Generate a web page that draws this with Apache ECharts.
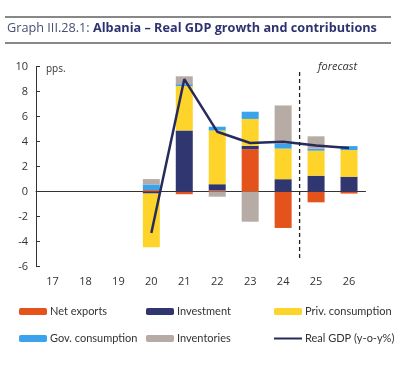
<!DOCTYPE html>
<html><head><meta charset="utf-8">
<script src="https://cdn.jsdelivr.net/npm/echarts@6/dist/echarts.min.js"></script>
<style>html,body{margin:0;padding:0;background:#fff}#c{width:416px;height:372px}</style>
</head><body><div id="c"></div>
<script>
const categories = ['17','18','19','20','21','22','23','24','25','26'];
const netExports = [null,null,null,0.13,-0.2,0.1,3.4,-2.9,-0.85,-0.15];
const investment = [null,null,null,-0.15,4.9,0.5,0.27,1.0,1.28,1.2];
const privCons   = [null,null,null,-4.3,3.55,4.3,2.15,2.45,2.0,2.13];
const govCons    = [null,null,null,0.45,0.15,0.3,0.58,0.4,0.15,0.32];
const inventories= [null,null,null,0.43,0.63,-0.4,-2.4,3.05,1.0,null];
const realGDP    = [null,null,null,-3.3,9.0,4.8,3.9,4.0,3.7,3.5];
const yTicks = {min:-6, max:10, interval:2};

const font = 'Open Sans';
const lfont = 'Lato';
const chart = echarts.init(document.getElementById('c'));
const barBase = {type:'bar', stack:'s', barWidth:17, xAxisIndex:0, yAxisIndex:0};
const legBase = {top:301, orient:'vertical', itemWidth:28, itemHeight:7, itemGap:16,
  textStyle:{color:'#333', fontSize:11, fontFamily:lfont, padding:[0,0,0,-2]}};
chart.setOption({
  animation:false,
  textStyle:{fontFamily:font},
  grid:{left:36, right:50.5, top:66.7, bottom:105.3},
  xAxis:[
    {type:'category', data:categories, position:'bottom',
     axisLine:{onZero:true, lineStyle:{color:'#333', width:1}},
     axisTick:{inside:true, length:4, lineStyle:{color:'#333'}},
     axisLabel:{show:false}},
    {type:'category', data:categories, position:'bottom',
     axisLine:{show:false}, axisTick:{show:false},
     axisLabel:{color:'#333', fontSize:11, margin:10, fontFamily:font}}
  ],
  yAxis:{type:'value', min:yTicks.min, max:yTicks.max, interval:yTicks.interval,
    axisLine:{show:true, onZero:false, lineStyle:{color:'#333'}},
    axisTick:{show:true, inside:true, length:4, lineStyle:{color:'#333'}},
    splitLine:{show:false},
    axisLabel:{color:'#333', fontSize:11, margin:8, fontFamily:font}},
  legend:[
    Object.assign({left:14, data:['Net exports','Gov. consumption']}, legBase),
    Object.assign({left:141, data:['Investment','Inventories']}, legBase),
    Object.assign({left:268, data:['Priv. consumption',
      {name:'Real GDP (y-o-y%)', itemStyle:{opacity:0}}]}, legBase)
  ],
  series:[
    Object.assign({name:'Net exports', data:netExports, itemStyle:{color:'#E4531C'}}, barBase),
    Object.assign({name:'Investment', data:investment, itemStyle:{color:'#2F3670'}}, barBase),
    Object.assign({name:'Priv. consumption', data:privCons, itemStyle:{color:'#FFD42A'}}, barBase),
    Object.assign({name:'Gov. consumption', data:govCons, itemStyle:{color:'#3BA3EC'}}, barBase),
    Object.assign({name:'Inventories', data:inventories, itemStyle:{color:'#B7ABA6'}}, barBase),
    {name:'Real GDP (y-o-y%)', type:'line', data:realGDP, symbol:'none', xAxisIndex:0,
     lineStyle:{color:'#262B5E', width:2.5}, itemStyle:{color:'#262B5E'}, z:5}
  ]
});
const xa = chart.convertToPixel({xAxisIndex:0}, '24');
const xb = chart.convertToPixel({xAxisIndex:0}, '25');
const xf = (xa + xb) / 2;
chart.setOption({graphic:[
  {type:'line', shape:{x1:5, y1:17, x2:391, y2:17}, style:{stroke:'#111', lineWidth:1}},
  {type:'line', shape:{x1:5, y1:43, x2:391, y2:43}, style:{stroke:'#111', lineWidth:1}},
  {type:'text', left:7, top:22, style:{
    text:'{a|Graph III.28.1: }{b|Albania – Real GDP growth and contributions}',
    rich:{a:{fontSize:12.7, fill:'#4A4F72', fontFamily:font},
          b:{fontSize:12.7, fontWeight:'bold', fill:'#2E3370', fontFamily:font}}}},
  {type:'text', left:46, top:64, style:{text:'pps.', fontSize:10, fill:'#333', fontFamily:font}},
  {type:'text', left:318, top:61, style:{text:'forecast', fontSize:11, fontStyle:'italic', fill:'#333', fontFamily:font}},
  {type:'line', shape:{x1:xf, y1:72, x2:xf, y2:258}, style:{stroke:'#222', lineWidth:1.3, lineDash:[4,3]}, z:10}
]});
</script></body></html>
